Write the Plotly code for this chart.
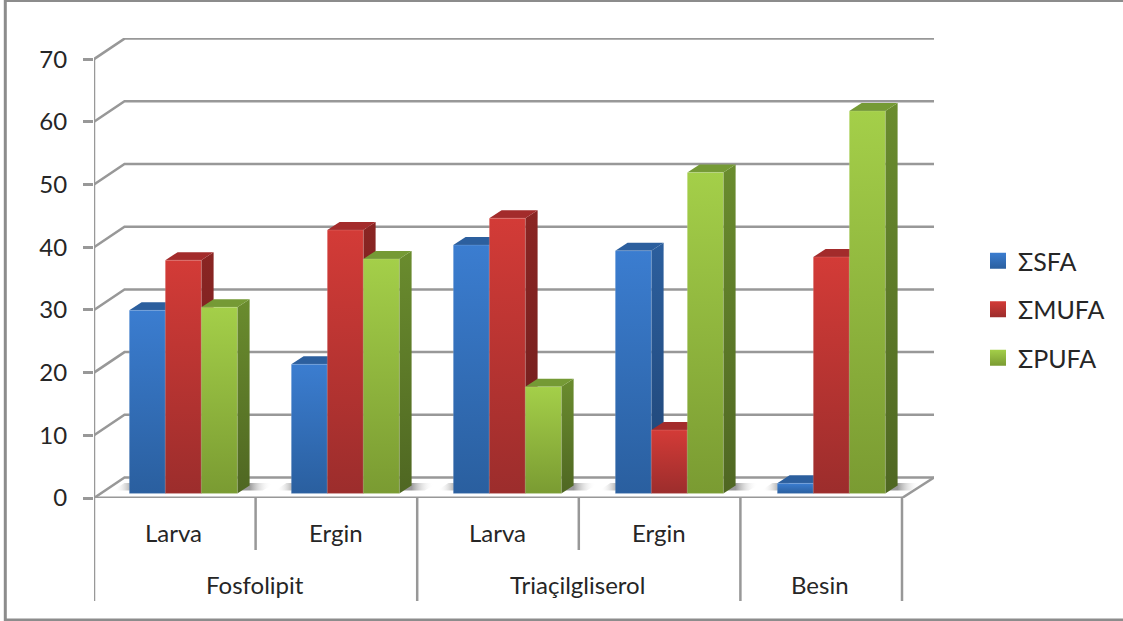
import plotly.graph_objects as go

categories = ["Larva", "Ergin", "Larva", "Ergin", ""]
groups = ["Fosfolipit", "Triaçilgliserol", "Besin"]
group_spans = [(0, 2), (2, 4), (4, 5)]
series_names = ["ΣSFA", "ΣMUFA", "ΣPUFA"]
sfa = [29.2, 20.6, 39.6, 38.7, 1.6]
mufa = [37.2, 42.0, 43.9, 10.1, 37.7]
pufa = [29.7, 37.4, 17.0, 51.2, 61.0]
y_ticks = [0, 10, 20, 30, 40, 50, 60, 70]

front_cols = [("#3b7dd0", "#2a5f9f"), ("#d33b37", "#9c2d2c"), ("#a4cf49", "#7a9b32")]
side_cols = [("#2c5f9e", "#1f4474"), ("#8a2523", "#6e1e1d"), ("#6a8c2e", "#4f6722")]
top_cols = ["#2c5f9e", "#a32b2b", "#759a35"]
GRID = "#989898"
TXT = "#262626"
FONT = "Lato"

W, H = 1123, 621
L, R, T, B = 94, 189, 38, 123
PX_X = 161.6
PX_Y = 6.27
plot_w = W - L - R
plot_h = H - T - B
xmax = plot_w / PX_X
ymax = plot_h / PX_Y
ux = lambda px: px / PX_X
uy = lambda px: px / PX_Y
# 3-D projection offsets
wall_dx, wall_dy = ux(30.5), uy(20.5)
depth_dx, depth_dy = ux(12.3), uy(8)
bar_w = ux(36)
bar_start = ux(35.3)
bar_step = ux(162)
base = uy(4.6)

fig = go.Figure()
shapes = []


def line(xs, ys, color=GRID, width=2.5):
    fig.add_trace(go.Scatter(x=xs, y=ys, mode="lines", line=dict(color=color, width=width),
                             cliponaxis=False, hoverinfo="skip", showlegend=False))


def poly(xs, ys, c1, c2=None, kind="vertical", start=None, stop=None, edge=None):
    if c2 is None:
        kw = dict(fillcolor=c1)
    else:
        grad = dict(type=kind, colorscale=[[0, c1], [1, c2]])
        if start is not None:
            grad.update(start=start, stop=stop)
        kw = dict(fillgradient=grad)
    if edge:
        kw.update(mode="lines", line=dict(color=edge, width=1))
    else:
        kw.update(mode="none")
    fig.add_trace(go.Scatter(x=xs, y=ys, fill="toself", hoverinfo="skip",
                             showlegend=False, cliponaxis=False, **kw))


# walls: gridlines and diagonals
for v in y_ticks:
    line([0, wall_dx, xmax], [v, v + wall_dy, v + wall_dy])
line([5, xmax], [0, wall_dy])
line([0, 5], [0, 0], width=3)

# value axis line
shapes.append(dict(type="line", xref="x", yref="y", x0=0, x1=0, y0=0, y1=70,
                   line=dict(color=GRID, width=2.5)))

# floor shadows and bars
all_vals = [sfa, mufa, pufa]
low, high = base + uy(3), base + uy(10.5)
for g in range(5):
    x0 = g * bar_step + bar_start
    x_end = x0 + 3 * bar_w + depth_dx
    poly([x_end - depth_dx, x_end, x_end + ux(27), x_end + ux(13)],
         [low, high, high, low],
         "rgba(130,130,130,0.8)", "rgba(255,255,255,0)", "horizontal",
         start=x_end, stop=x_end + ux(22))
    poly([x0 - ux(16), x0 - ux(5), x0 + depth_dx, x0],
         [low, high, high, low],
         "rgba(255,255,255,0)", "rgba(150,150,150,0.65)", "horizontal",
         start=x0 - ux(15), stop=x0)
    for s in range(3):
        v = all_vals[s][g]
        xa = x0 + s * bar_w
        xb = xa + bar_w
        ya = base
        yb = base + v
        poly([xb, xb + depth_dx, xb + depth_dx, xb], [ya, ya + depth_dy, yb + depth_dy, yb],
             side_cols[s][1], side_cols[s][0])
        poly([xa, xb, xb + depth_dx, xa + depth_dx], [yb, yb, yb + depth_dy, yb + depth_dy],
             top_cols[s])
        poly([xa, xb, xb, xa, xa], [ya, ya, yb, yb, ya], front_cols[s][1], front_cols[s][0],
             edge="rgba(255,255,255,0.14)")

# category dividers
for g in range(6):
    major = g in [0, 2, 4, 5]
    shapes.append(dict(type="line", xref="x", yref="paper", x0=g, x1=g, y0=0,
                       y1=-(103 if major else 52) / plot_h, line=dict(color=GRID, width=2.5)))

ann = []
for g, c in enumerate(categories):
    if c:
        ann.append(dict(x=g + 0.495, y=-34.5 / plot_h, text=c))
for name, (a, b) in zip(groups, group_spans):
    ann.append(dict(x=(a + b) / 2 - 0.005, y=-86.5 / plot_h, text=name))
for a in ann:
    a.update(xref="x", yref="paper", showarrow=False, xanchor="center", yanchor="middle",
             font=dict(family=FONT, size=24, color=TXT))

# legend entries
for name, cols in zip(series_names, front_cols):
    fig.add_trace(go.Scatter(x=[None], y=[None], mode="markers", name=name, legendgroup=name,
                             marker=dict(symbol="square", size=16, color=cols[0],
                                         gradient=dict(type="vertical", color=cols[1]))))

px_x = lambda p: (p - L) / plot_w
px_y = lambda p: (H - B - p) / plot_h
shapes.append(dict(type="rect", xref="paper", yref="paper", x0=px_x(5.3), x1=px_x(1135), y0=px_y(0.5),
                   y1=px_y(620), line=dict(color="#8c8c8c", width=3), fillcolor="rgba(0,0,0,0)"))

fig.update_layout(
    width=W, height=H, margin=dict(l=L, r=R, t=T, b=B, pad=0, autoexpand=False),
    paper_bgcolor="white", plot_bgcolor="white",
    font=dict(family=FONT, color=TXT),
    annotations=ann,
    shapes=shapes,
    showlegend=True,
    legend=dict(x=px_x(978), y=px_y(238), xanchor="left", yanchor="top", tracegroupgap=13,
                font=dict(family=FONT, size=25, color=TXT), bgcolor="rgba(0,0,0,0)"),
    xaxis=dict(range=[0, xmax], visible=False, fixedrange=True),
    yaxis=dict(range=[0, ymax], tickmode="array", tickvals=y_ticks, ticks="outside", ticklen=10,
               tickwidth=2.5, tickcolor=GRID, showgrid=False, zeroline=False, showline=False,
               tickfont=dict(family=FONT, size=24, color=TXT), ticklabelstandoff=11, fixedrange=True),
)

fig.write_html("out.html", post_script="document.body.style.margin='0';document.body.style.overflow='hidden';",
               config=dict(displayModeBar=False))
